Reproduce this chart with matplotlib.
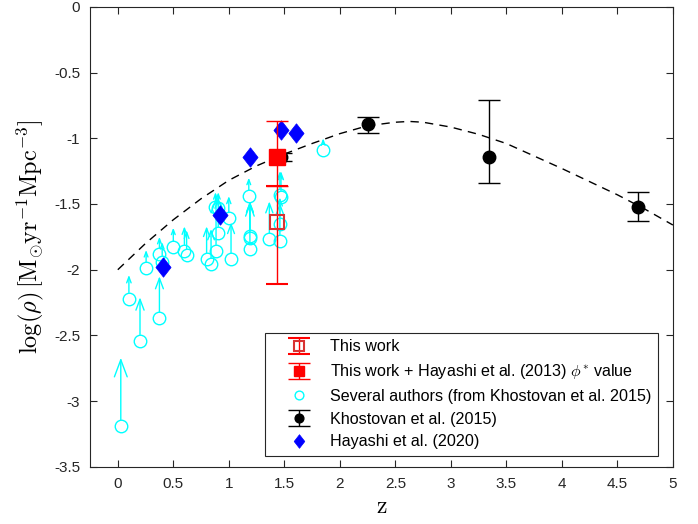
import numpy as np
import matplotlib.pyplot as plt

plt.rcParams['font.family'] = ['Liberation Sans', 'DejaVu Sans']
plt.rcParams['mathtext.fontset'] = 'cm'

# dashed model curve
curve_z = [0, 0.25, 0.5, 0.75, 1.0, 1.25, 1.5, 1.75, 2.0, 2.25, 2.5, 2.625,
           2.75, 3.0, 3.25, 3.5, 3.75, 4.0, 4.25, 4.5, 4.75, 5.0]
curve_v = [-2.00, -1.80, -1.62, -1.46, -1.32, -1.21, -1.12, -1.04, -0.965, -0.905, -0.878, -0.872,
           -0.878, -0.915, -0.97, -1.04, -1.135, -1.23, -1.33, -1.43, -1.54, -1.66]

# several authors (lower limits, from Khostovan et al. 2015)
sev_z = [0.027, 0.10, 0.20, 0.255, 0.375, 0.375, 0.40, 0.50, 0.60, 0.62,
         0.80, 0.84, 0.885, 0.905, 0.88, 0.905, 1.00, 1.02, 1.18, 1.19,
         1.19, 1.19, 1.365, 1.46, 1.47, 1.46, 1.46, 1.85]
sev_v = [-3.19, -2.22, -2.54, -1.99, -2.37, -1.88, -1.94, -1.83, -1.855, -1.89,
         -1.92, -1.96, -1.855, -1.72, -1.52, -1.53, -1.61, -1.92, -1.44, -1.74,
         -1.76, -1.84, -1.77, -1.43, -1.45, -1.65, -1.78, -1.09]
sev_top = [-2.67, -2.04, -2.21, -1.85, -2.05, -1.75, -1.79, -1.68, -1.67, -1.70,
           -1.67, -1.69, -1.45, -1.45, -1.41, -1.41, -1.44, -1.64, -1.30, -1.48,
           -1.48, -1.49, -1.48, -1.25, -1.25, -1.45, -1.49, -1.00]

# Khostovan et al. (2015)
kh_z = [1.47, 2.25, 3.34, 4.69]
kh_v = [-1.14, -0.89, -1.14, -1.52]
kh_lo = [0.03, 0.07, 0.20, 0.11]
kh_hi = [0.03, 0.05, 0.43, 0.11]

# Hayashi et al. (2020)
hy_z = [0.41, 0.92, 1.19, 1.47, 1.605]
hy_v = [-1.98, -1.58, -1.14, -0.935, -0.96]

# this work
tw_z = [1.43]
tw_v = [-1.64]
tw_lo = [0.47]
tw_hi = [0.28]

# this work + Hayashi et al. (2013) phi* value
th_z = [1.43]
th_v = [-1.14]
th_lo = [0.22]
th_hi = [0.27]

cyan = '#00ffff'
# matlab-like diamond, a bit wider than 'd'
diamond = [(0, 1), (0.78, 0), (0, -1), (-0.78, 0), (0, 1)]

fig = plt.figure(figsize=(6.98, 5.24), dpi=100)
ax = fig.add_axes([0.129, 0.109, 0.835, 0.878])

ax.plot(curve_z, curve_v, color='k', lw=1, dashes=(6, 4.5), zorder=1)

# arrows first, circles on top
for z, v, t in zip(sev_z, sev_v, sev_top):
    L_px = (t - v) * 131.4
    ms = max(0.25 * L_px * 0.72 / 0.4, 9)
    ax.annotate('', xy=(z, t), xytext=(z, v),
                arrowprops=dict(arrowstyle='->,head_length=0.4,head_width=0.15',
                                color=cyan, lw=1, shrinkA=4.5, shrinkB=0,
                                mutation_scale=ms), zorder=2)
h_sev, = ax.plot(sev_z, sev_v, 'o', mfc='none', mec=cyan, ms=9, mew=1, ls='none', zorder=3)

h_kh = ax.errorbar(kh_z, kh_v, yerr=[kh_lo, kh_hi], fmt='o', color='k', ms=9,
                   capsize=8, elinewidth=1, capthick=1, zorder=4)
h_hy, = ax.plot(hy_z, hy_v, marker=diamond, color='b', ms=14, mew=0.5, ls='none', zorder=5)
h_tw = ax.errorbar(tw_z, tw_v, yerr=[tw_lo, tw_hi], fmt='s', mfc='none', mec=(0.85, 0.2, 0.2),
                   color='r', ms=10, mew=1.5, capsize=8, elinewidth=1, capthick=1, zorder=6)
h_th = ax.errorbar(th_z, th_v, yerr=[th_lo, th_hi], fmt='s', color='r', ms=11,
                   capsize=8, elinewidth=1, capthick=1, zorder=7)

ax.set_xlim(-0.25, 5)
ax.set_ylim(-3.5, 0)
xt = [0, 0.5, 1, 1.5, 2, 2.5, 3, 3.5, 4, 4.5, 5]
yt = [0, -0.5, -1, -1.5, -2, -2.5, -3, -3.5]
ax.set_xticks(xt)
ax.set_xticklabels(['0', '0.5', '1', '1.5', '2', '2.5', '3', '3.5', '4', '4.5', '5'])
ax.set_yticks(yt)
ax.set_yticklabels(['0', '-0.5', '-1', '-1.5', '-2', '-2.5', '-3', '-3.5'])
ax.tick_params(direction='in', top=True, right=True, length=5, width=0.8,
               labelsize=11, colors='#262626', pad=7)
for s in ax.spines.values():
    s.set_color('#262626')
    s.set_linewidth(0.8)

ax.set_xlabel(r'$\mathrm{z}$', fontsize=17, labelpad=4)
ax.set_ylabel(r'$\log(\rho)\,[\mathrm{M_{\odot}yr^{-1}Mpc^{-3}}]$', fontsize=17.5, labelpad=6)

leg = ax.legend([h_tw, h_th, h_sev, h_kh, h_hy],
                ['This work', r'This work + Hayashi et al. (2013) $\phi^{*}$ value',
                 'Several authors (from Khostovan et al. 2015)',
                 'Khostovan et al. (2015)', 'Hayashi et al. (2020)'],
                loc='lower right', bbox_to_anchor=(0.974, 0.024), borderaxespad=0,
                fontsize=11.6, fancybox=False, edgecolor='#262626', framealpha=1,
                handlelength=3.5, handletextpad=0.15, labelspacing=0.48, borderpad=0.4,
                markerscale=0.7)
leg.get_frame().set_linewidth(0.8)

fig.savefig('out.png', dpi=100)
